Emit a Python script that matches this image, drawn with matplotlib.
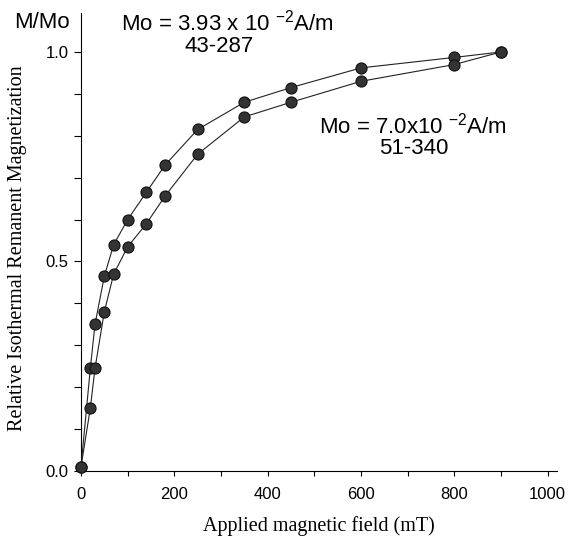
import numpy as np
import matplotlib
matplotlib.use("Agg")
import matplotlib.pyplot as plt

# applied field (mT)
field = [0, 20, 30, 50, 70, 100, 140, 180, 250, 350, 450, 600, 800, 900]
# sample 43-287 (upper curve)
irm_43_287 = [0.01, 0.245, 0.35, 0.465, 0.54, 0.60, 0.665, 0.73, 0.815, 0.88, 0.915, 0.962, 0.987, 1.0]
# sample 51-340 (lower curve)
irm_51_340 = [0.01, 0.15, 0.245, 0.38, 0.47, 0.535, 0.59, 0.656, 0.756, 0.845, 0.88, 0.93, 0.97, 1.0]

xticks = [0, 200, 400, 600, 800, 1000]
yticks = [0.0, 0.5, 1.0]

plt.rcParams['font.family'] = ['Liberation Sans', 'DejaVu Sans']
plt.rcParams['mathtext.fontset'] = 'custom'
plt.rcParams['mathtext.rm'] = 'Liberation Sans'
plt.rcParams['mathtext.it'] = 'Liberation Sans'

W, H = 568, 539
fig = plt.figure(figsize=(W / 100, H / 100), dpi=100)
ax = fig.add_axes([81 / W, 1 - 471 / H, (557 - 81) / W, (471 - 13) / H])

for y in (irm_43_287, irm_51_340):
    ax.plot(field, y, color='#222222', lw=0.8, marker='o', markersize=8,
            markerfacecolor='#333333', markeredgecolor='#111111', markeredgewidth=0.8,
            clip_on=False, zorder=3)

ax.set_xlim(0, 1020)
ax.set_ylim(0, 1.093)
ax.spines['top'].set_visible(False)
ax.spines['right'].set_visible(False)
ax.spines['left'].set_linewidth(0.8)
ax.spines['bottom'].set_linewidth(0.8)

ax.set_xticks(xticks)
ax.set_xticks(np.arange(100, 1001, 200), minor=True)
ax.set_yticks(yticks)
ax.set_yticklabels(['0.0', '0.5', '1.0'])
ax.set_yticks(np.arange(0.1, 1.0, 0.1), minor=True)
ax.tick_params(axis='x', which='both', direction='out', length=3.5, width=0.8, labelsize=12, pad=8)
ax.tick_params(axis='y', which='both', direction='out', length=5, width=0.8, labelsize=12, pad=4)

ax.set_xlabel('Applied magnetic field (mT)', family='Liberation Serif', fontsize=14.5, labelpad=10)
fig.text(18 / W, 1 - 248 / H, 'Relative Isothermal Remanent Magnetization', family='Liberation Serif',
         fontsize=14.5, rotation=90, ha='center', va='center')

fig.text(42 / W, 1 - 23 / H, 'M/Mo', fontsize=16, ha='center', va='center')
fig.text(227 / W, 1 - 23 / H, r'Mo = 3.93 x 10 $^{-2}$A/m', fontsize=16, ha='center', va='center')
fig.text(219 / W, 1 - 47 / H, '43-287', fontsize=16, ha='center', va='center')
fig.text(413 / W, 1 - 126 / H, r'Mo = 7.0x10 $^{-2}$A/m', fontsize=16, ha='center', va='center')
fig.text(414 / W, 1 - 148 / H, '51-340', fontsize=16, ha='center', va='center')

fig.savefig('out.png', dpi=100)
